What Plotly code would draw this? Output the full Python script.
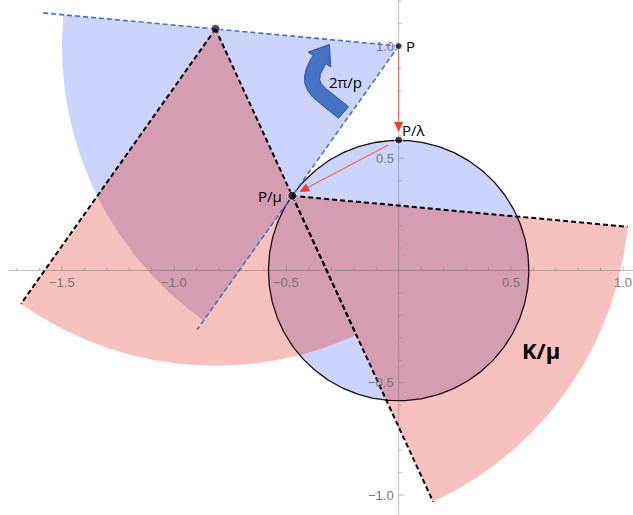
import numpy as np
import plotly.graph_objects as go

# ---------------- data ----------------
P = (0.0, 1.0)                 # point P
P_LAMBDA = (0.0, 0.581)        # P/λ
P_MU = (-0.474, 0.333)         # P/μ
P_ROT = (-0.816, 1.076)        # P/μ rotated about P by 2π/p
CIRCLE_R = 0.58                # radius of disc K/μ boundary
WEDGE_R = 1.5                  # radius of the wedges
p = 6                          # rotation order (angle 2π/p)
BLUE_LINE_LEN = [1.60, 1.55]   # lengths of the two blue dashed rays from P
RED2_START = (-0.046, 0.559)   # start of the second red arrow

X_TICKS = [-1.5, -1.0, -0.5, 0.5, 1.0]
X_TICK_LABELS = ["\u22121.5", "\u22121.0", "\u22120.5", "0.5", "1.0"]
Y_TICKS = [1.0, 0.5, -0.5, -1.0]
Y_TICK_LABELS = ["1.0", "0.5", "\u22120.5", "\u22121.0"]

# ---------------- styles ----------------
BLUE = "#ccd3fc"
PINK = "#f7c1bd"
PURPLE = "#d49db1"
AXIS = "rgba(110,110,110,0.45)"
TICKFONT = dict(family="Liberation Sans, Arial, sans-serif", size=13, color="#777777")
LBLFONT = "Open Sans, DejaVu Sans, sans-serif"

W, H = 633, 515
X_RANGE = [-1.776, 1.044]
Y_RANGE = [-1.089, 1.205]
PX = (X_RANGE[1] - X_RANGE[0]) / W   # data units per pixel


def pix(px, py):
    """screen pixel -> data coordinates (used only for the decorative curved arrow)"""
    return (X_RANGE[0] + px * PX, Y_RANGE[1] - py * PX)


def ang(v):
    return np.arctan2(v[1], v[0])


def sub(a, b):
    return (a[0] - b[0], a[1] - b[1])


def sector(c, r, a0, a1, n=160):
    th = np.linspace(a0, a1, n)
    return [(c[0], c[1])] + [(c[0] + r * np.cos(t), c[1] + r * np.sin(t)) for t in th]


def circle_poly(c, r, n=400):
    th = np.linspace(0, 2 * np.pi, n, endpoint=False)
    return [(c[0] + r * np.cos(t), c[1] + r * np.sin(t)) for t in th]


def area(poly):
    s = 0.0
    for i in range(len(poly)):
        x1, y1 = poly[i]
        x2, y2 = poly[(i + 1) % len(poly)]
        s += x1 * y2 - x2 * y1
    return s / 2


def ccw(poly):
    return poly if area(poly) > 0 else poly[::-1]


def clip(subject, clipper):
    clipper = ccw(clipper)
    out = list(subject)
    n = len(clipper)
    for i in range(n):
        a = clipper[i]
        b = clipper[(i + 1) % n]
        inp = out
        out = []
        if not inp:
            break

        def inside(q):
            return (b[0] - a[0]) * (q[1] - a[1]) - (b[1] - a[1]) * (q[0] - a[0]) >= 0

        def inter(s, e):
            dx1, dy1 = e[0] - s[0], e[1] - s[1]
            dx2, dy2 = b[0] - a[0], b[1] - a[1]
            den = dx1 * dy2 - dy1 * dx2
            if abs(den) < 1e-15:
                return e
            t = ((a[0] - s[0]) * dy2 - (a[1] - s[1]) * dx2) / den
            return (s[0] + t * dx1, s[1] + t * dy1)

        s = inp[-1]
        for e in inp:
            if inside(e):
                if not inside(s):
                    out.append(inter(s, e))
                out.append(e)
            elif inside(s):
                out.append(inter(s, e))
            s = e
    return out


def fill_trace(poly, color, line=None):
    if not poly:
        return None
    xs = [q[0] for q in poly] + [poly[0][0]]
    ys = [q[1] for q in poly] + [poly[0][1]]
    return go.Scatter(x=xs, y=ys, mode="lines", fill="toself", fillcolor=color,
                      line=line or dict(width=0, color=color), hoverinfo="skip", showlegend=False)


step = 2 * np.pi / p
a_edge = ang(sub(P_MU, P_ROT))        # direction of the shared black line
wedgeA = sector(P_ROT, WEDGE_R, a_edge - step, a_edge)
wedgeB = sector(P_MU, WEDGE_R, a_edge, a_edge + step)
c0 = ang(sub(P_ROT, P))
wedgeC = sector(P, WEDGE_R, c0, c0 + step)
disc = circle_poly((0.0, 0.0), CIRCLE_R)

fig = go.Figure()
for poly in (wedgeC, disc):
    fig.add_trace(fill_trace(poly, BLUE))
for poly in (wedgeA, wedgeB):
    fig.add_trace(fill_trace(poly, PINK))
for pk in (wedgeA, wedgeB):
    for bl in (wedgeC, disc):
        tr = fill_trace(clip(pk, bl), PURPLE)
        if tr is not None:
            fig.add_trace(tr)

# ---------------- axes drawn through the origin ----------------
fig.add_trace(go.Scatter(x=[-1.736, 1.044], y=[0, 0], mode="lines",
                         line=dict(color=AXIS, width=1), hoverinfo="skip", showlegend=False))
fig.add_trace(go.Scatter(x=[0, 0], y=[Y_RANGE[0], Y_RANGE[1]], mode="lines",
                         line=dict(color=AXIS, width=1), hoverinfo="skip", showlegend=False))
tx, ty = [], []
for v in np.round(np.arange(-1.7, 1.05, 0.1), 2):
    if abs(v) < 1e-9:
        continue
    L = (5 if abs(v * 2 - round(v * 2)) < 1e-9 else 3) * PX
    tx += [v, v, None]
    ty += [0, L, None]
for v in np.round(np.arange(-1.0, 1.25, 0.1), 2):
    if abs(v) < 1e-9:
        continue
    L = (5 if abs(v * 2 - round(v * 2)) < 1e-9 else 3) * PX
    tx += [0, L, None]
    ty += [v, v, None]
fig.add_trace(go.Scatter(x=tx, y=ty, mode="lines", line=dict(color=AXIS, width=1),
                         hoverinfo="skip", showlegend=False))

# circle outline
cx = [q[0] for q in disc] + [disc[0][0]]
cy = [q[1] for q in disc] + [disc[0][1]]
fig.add_trace(go.Scatter(x=cx, y=cy, mode="lines", line=dict(color="#1a0a10", width=1.3),
                         hoverinfo="skip", showlegend=False))

# black dashed wedge edges
bx, by = [], []
for c, a in ((P_ROT, a_edge - step), (P_ROT, a_edge), (P_MU, a_edge), (P_MU, a_edge + step)):
    bx += [c[0], c[0] + WEDGE_R * np.cos(a), None]
    by += [c[1], c[1] + WEDGE_R * np.sin(a), None]
fig.add_trace(go.Scatter(x=bx, y=by, mode="lines", line=dict(color="black", width=2, dash="5px,3px"),
                         hoverinfo="skip", showlegend=False))

# blue dashed rays from P
ux, uy = [], []
for tgt, ln in ((P_ROT, BLUE_LINE_LEN[0]), (P_MU, BLUE_LINE_LEN[1])):
    a = ang(sub(tgt, P))
    ux += [P[0], P[0] + ln * np.cos(a), None]
    uy += [P[1], P[1] + ln * np.sin(a), None]
fig.add_trace(go.Scatter(x=ux, y=uy, mode="lines", line=dict(color="#4a72c4", width=1.6, dash="5px,3px"),
                         hoverinfo="skip", showlegend=False))


# red arrows
def red_arrow(start, tip):
    d = np.array(sub(tip, start), dtype=float)
    u = d / np.linalg.norm(d)
    n = np.array([-u[1], u[0]])
    hl, hw = 10 * PX, 4.5 * PX
    base = np.array(tip) - hl * u
    fig.add_trace(go.Scatter(x=[start[0], base[0]], y=[start[1], base[1]], mode="lines",
                             line=dict(color="#f26457", width=1.1), hoverinfo="skip", showlegend=False))
    tri = [tuple(tip), tuple(base + hw * n), tuple(base - hw * n)]
    fig.add_trace(fill_trace(tri, "#ee3b2e"))


red_arrow(P, (P_LAMBDA[0], P_LAMBDA[1] + 8 * PX))
v = np.array(sub(P_MU, RED2_START))
tip2 = np.array(P_MU) - 8 * PX * v / np.linalg.norm(v)
red_arrow(RED2_START, tuple(tip2))

# points
pts = [P, P_LAMBDA, P_MU, P_ROT]
sizes = [7, 8, 9, 9]
fig.add_trace(go.Scatter(x=[q[0] for q in pts], y=[q[1] for q in pts], mode="markers",
                         marker=dict(color="black", size=sizes), hoverinfo="skip", showlegend=False))

# curved "2π/p" arrow: a band along a cubic Bezier with a triangular head
b0 = np.array(pix(343.5, 112.5))
b1 = np.array(pix(320.0, 92.0))
b2 = np.array(pix(301.0, 88.0))
b3 = np.array(pix(319.5, 59.5))
t = np.linspace(0, 1, 60)[:, None]
cen = (1 - t) ** 3 * b0 + 3 * (1 - t) ** 2 * t * b1 + 3 * (1 - t) * t ** 2 * b2 + t ** 3 * b3
der = 3 * (1 - t) ** 2 * (b1 - b0) + 6 * (1 - t) * t * (b2 - b1) + 3 * t ** 2 * (b3 - b2)
der = der / np.linalg.norm(der, axis=1)[:, None]
nrm = np.column_stack([-der[:, 1], der[:, 0]])
hwb = 7.6 * PX
left = cen + hwb * nrm
right = cen - hwb * nrm
tipdir = np.array([0.55, 0.835])
tipdir = tipdir / np.linalg.norm(tipdir)
tipn = np.array([-tipdir[1], tipdir[0]])
head = [tuple(b3 + 13.5 * PX * tipn), tuple(b3 + 18 * PX * tipdir), tuple(b3 - 13.5 * PX * tipn)]
shape_pts = [tuple(q) for q in left] + head + [tuple(q) for q in right[::-1]]
fig.add_trace(fill_trace(shape_pts, "#4472c4", line=dict(color="#2f528f", width=1)))
arrow_label_pos = pix(345, 82)

# ---------------- text ----------------
ann = []
for v, tt in zip(X_TICKS, X_TICK_LABELS):
    ann.append(dict(x=v, y=0, text=tt, xanchor="center", yanchor="middle", yshift=-12, font=TICKFONT))
for v, tt in zip(Y_TICKS, Y_TICK_LABELS):
    ann.append(dict(x=0, y=v, text=tt, xanchor="right", yanchor="middle", xshift=-3, font=TICKFONT))

ann += [
    dict(x=P[0], y=P[1], text="P", xanchor="left", yanchor="middle", xshift=5,
         font=dict(family=LBLFONT, size=15, color="black")),
    dict(x=P_LAMBDA[0], y=P_LAMBDA[1], text="P/\u03bb", xanchor="left", yanchor="middle",
         xshift=1, yshift=10, font=dict(family=LBLFONT, size=15, color="black")),
    dict(x=P_MU[0], y=P_MU[1], text="P/\u03bc", xanchor="right", yanchor="middle", xshift=-8,
         font=dict(family=LBLFONT, size=15, color="black")),
    dict(x=arrow_label_pos[0], y=arrow_label_pos[1], text="2\u03c0/p", xanchor="center", yanchor="middle",
         font=dict(family=LBLFONT, size=15, color="black")),
    dict(x=0.634, y=-0.354, text="<b>K/\u03bc</b>", xanchor="center", yanchor="middle",
         font=dict(family=LBLFONT, size=22, color="black")),
]
for a in ann:
    a["showarrow"] = False
    a["xref"] = "x"
    a["yref"] = "y"

fig.update_layout(
    width=W, height=H, margin=dict(l=0, r=0, t=0, b=0),
    paper_bgcolor="white", plot_bgcolor="white",
    xaxis=dict(range=X_RANGE, visible=False, fixedrange=True),
    yaxis=dict(range=Y_RANGE, visible=False, fixedrange=True),
    annotations=ann, showlegend=False,
)

fig.write_html("out.html", config={"displayModeBar": False},
               post_script="document.body.style.margin='0';")
